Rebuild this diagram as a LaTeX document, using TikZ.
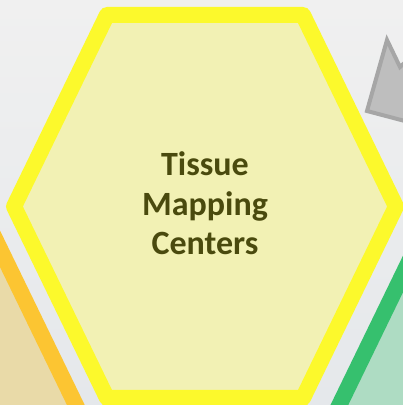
\documentclass[tikz,border=0pt]{standalone}
\usepackage{fontspec}
\setmainfont{Carlito}
\definecolor{bgtop}{HTML}{F0F0F0}
\definecolor{bgbot}{HTML}{E5E8EB}
\definecolor{tmcline}{HTML}{FCF92C}
\definecolor{tmcfill}{HTML}{F2F1B4}
\definecolor{tmctext}{HTML}{4A4A0E}
\definecolor{orline}{HTML}{FCC532}
\definecolor{orfill}{HTML}{E9DAA8}
\definecolor{grline}{HTML}{36C06E}
\definecolor{grfill}{HTML}{AEDCC3}
\definecolor{arline}{HTML}{A6A6A6}
\definecolor{arfill}{HTML}{BEBEBE}
\tikzset{
  hexcell/.pic={
    \path[pic actions] (191,0) -- (98,191.5) -- (-98,191.5) -- (-191,0)
      -- (-98,-191.5) -- (98,-191.5) -- cycle;
  },
  cellborder/.style={line width=16pt, line join=round}
}

\begin{document}
\begin{tikzpicture}[x=1pt, y=1pt]
            \useasboundingbox (0,0) rectangle (403,405);
            \clip (0,0) rectangle (403,405);
            % Background
            \shade[top color=bgtop, bottom color=bgbot] (0,0) rectangle (403,405);

            % Neighbour cells
            \pic[cellborder, draw=orline, fill=orfill] at (-112,-6.5) {hexcell};
            \pic[cellborder, draw=grline, fill=grfill] at (526,-9) {hexcell};

            % Arrow tail, top right
            \draw[line width=4pt, line join=miter, draw=arline, fill=arfill]
              (387,365) -- (400,338) -- (420,356) -- (420,280) -- (367,294) -- cycle;

            % Center cell
            \pic[cellborder, draw=tmcline, fill=tmcfill] at (205,198.5) {hexcell};
            \node[font=\fontsize{34}{39.5}\selectfont\bfseries, text=tmctext, align=center]
              (tmc) at (205,201.5) {Tissue\\Mapping\\Centers};
\end{tikzpicture}
\end{document}
